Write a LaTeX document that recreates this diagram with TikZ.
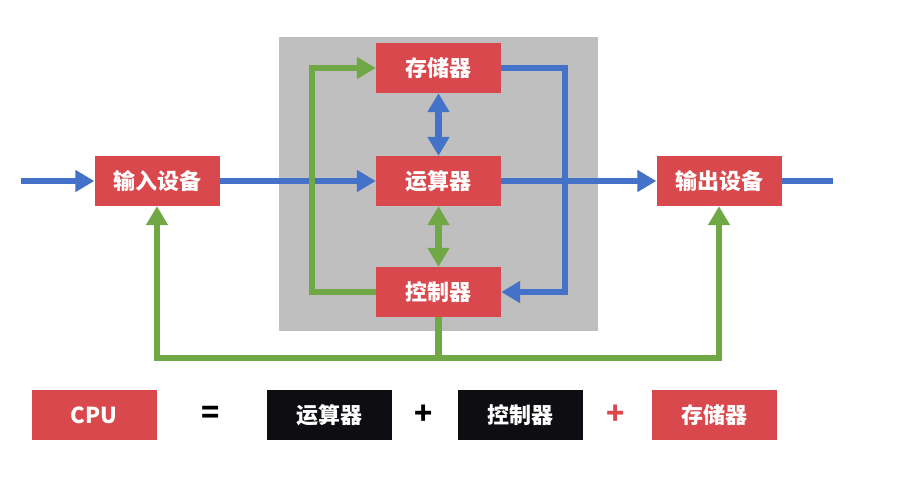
\documentclass[tikz,border=0pt]{standalone}
\usepackage{fontspec}
\setmainfont{Noto Sans CJK SC}
\usetikzlibrary{arrows.meta}
\definecolor{boxred}{RGB}{217,72,76}
\definecolor{lineblue}{RGB}{68,114,200}
\definecolor{linegreen}{RGB}{112,168,70}
\definecolor{panelgray}{RGB}{191,191,191}
\definecolor{boxblack}{RGB}{14,13,18}
\tikzset{
  unit/.style={minimum width=125pt, minimum height=50pt, inner sep=0pt,
    text=white, font=\fontsize{22}{22}\selectfont\bfseries},
  redunit/.style={unit, fill=boxred},
  blackunit/.style={unit, fill=boxblack},
  opsign/.style={font=\fontsize{30}{30}\selectfont\bfseries, inner sep=0pt},
  tip/.tip={Triangle[length=19pt, width=21pt]},
  flow/.style={line width=6.5pt, line join=miter},
  bluearrow/.style={flow, draw=lineblue, -tip},
  greenarrow/.style={flow, draw=linegreen, -tip},
  blueline/.style={flow, draw=lineblue},
  bluedouble/.style={flow, draw=lineblue, tip-tip},
  greendouble/.style={flow, draw=linegreen, tip-tip},
}
\begin{document}
\begin{tikzpicture}[x=1pt, y=-1pt]
\useasboundingbox (0,0) rectangle (900,498);

% CPU panel
\fill[panelgray] (279,37) rectangle (598,331);

% units of the machine
\node[redunit] (mem) at (438.5,68)  {存储器};
\node[redunit] (alu) at (438.5,181) {运算器};
\node[redunit] (ctl) at (438.5,292) {控制器};
\node[redunit] (in)  at (157,181)   {输入设备};
\node[redunit] (out) at (719,181)   {输出设备};

% free ends of the data path
\coordinate (src)  at (21,181);
\coordinate (sink) at (833,181);

% data flow (blue)
\draw[bluearrow] (src) -- (in.west);
\draw[bluearrow] (in.east) -- (alu.west);
\draw[bluearrow] (alu.east) -- (out.west);
\draw[blueline]  (out.east) -- (sink);
\draw[bluearrow] (mem.east) -- ++(64,0) |- (ctl.east);
\draw[bluedouble] (mem.south) -- (alu.north);

% control flow (green)
\draw[greendouble] (alu.south) -- (ctl.north);
\draw[greenarrow] (ctl.west) -- ++(-64,0) |- (mem.west);
\draw[greenarrow] (ctl.south) -- ++(0,41) -| (in.south);
\draw[greenarrow] (ctl.south) -- ++(0,41) -| (out.south);

% CPU = ALU + control unit + memory
\node[redunit]   (cpu)  at (94,415)  {CPU};
\node[opsign]    (eq)   at (211,415) {=};
\node[blackunit] (alu2) at (329,415) {运算器};
\node[opsign]    (p1)   at (424,415) {+};
\node[blackunit] (ctl2) at (520,415) {控制器};
\node[opsign, text=boxred] (p2) at (616,415) {+};
\node[redunit]   (mem2) at (714,415) {存储器};
\end{tikzpicture}
\end{document}
